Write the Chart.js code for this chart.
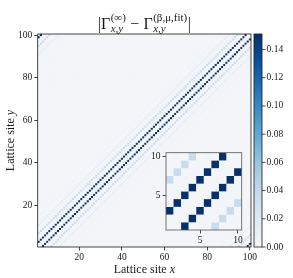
<!DOCTYPE html>
<html>
<head>
<meta charset="utf-8">
<script src="https://cdn.jsdelivr.net/npm/chart.js@4.4.1/dist/chart.umd.min.js"></script>
<style>
html, body { margin: 0; padding: 0; background: #fff; }
#wrap { position: relative; width: 293px; height: 278px; }
#main { position: absolute; left: 0; top: 0; }
#inset { position: absolute; left: 140px; top: 140px; }
</style>
</head>
<body>
<div id="wrap">
<canvas id="main" width="293" height="278"></canvas>
<canvas id="inset" width="110" height="110"></canvas>
</div>
<script>
// lattice size
var sites = 100;
var distances = [0, 1, 2, 3, 4, 5, 6, 7, 8, 9, 10, 11, 12, 13, 14];
var distValues = [0.001, 0.001, 0.151, 0.001, 0.003, 0.001, 0.036, 0.001, 0.003, 0.001, 0.014, 0.001, 0.003, 0.001, 0.006];
// everything farther away
var restValue = 0.001;

var xTicks = [20, 40, 60, 80, 100];
var yTicks = [20, 40, 60, 80, 100];
var insetMax = 10;
var insetTicks = [5, 10];
var cbTicks = [0, 0.02, 0.04, 0.06, 0.08, 0.10, 0.12, 0.14];
var vmin = 0, vmax = 0.151;

// "Blues"-like colour steps (lightest end a little greyer, as in the picture)
var bluesStops = [
	[245, 246, 248], [222, 235, 247], [198, 219, 239], [158, 202, 225], [107, 174, 214],
	[66, 146, 198], [33, 113, 181], [8, 81, 156], [8, 48, 107]
];
function blues(t) {
	t = Math.max(0, Math.min(1, t));
	var p = t * (bluesStops.length - 1);
	var i = Math.min(Math.floor(p), bluesStops.length - 2);
	var f = p - i;
	var a = bluesStops[i], b = bluesStops[i + 1];
	return 'rgb(' + Math.round(a[0] + (b[0] - a[0]) * f) + ',' +
		Math.round(a[1] + (b[1] - a[1]) * f) + ',' +
		Math.round(a[2] + (b[2] - a[2]) * f) + ')';
}
function colorOf(v) { return blues((v - vmin) / (vmax - vmin)); }

// cells of the matrix
var cells = [];
for (var x = 1; x <= sites; x++) {
	for (var y = 1; y <= sites; y++) {
		var d = Math.abs(x - y);
		d = Math.min(d, sites - d);
		var k = distances.indexOf(d);
		cells.push({ x: x, y: y, v: k >= 0 ? distValues[k] : restValue });
	}
}
var insetCells = cells.filter(function (c) { return c.x <= insetMax && c.y <= insetMax; });

var serif = "'Liberation Serif', 'DejaVu Serif', serif";
var ink = '#1a1a1a';

// heatmap cells through the scales
var heatPlugin = {
	id: 'heat',
	beforeDatasetsDraw: function (chart) {
		var ctx = chart.ctx, xs = chart.scales.x, ys = chart.scales.y, a = chart.chartArea;
		ctx.save();
		ctx.beginPath();
		ctx.rect(a.left, a.top, a.right - a.left, a.bottom - a.top);
		ctx.clip();
		ctx.fillStyle = colorOf(restValue);
		ctx.fillRect(a.left, a.top, a.right - a.left, a.bottom - a.top);
		chart.data.datasets[0].data.forEach(function (c) {
			var x0 = xs.getPixelForValue(c.x - 0.5), x1 = xs.getPixelForValue(c.x + 0.5);
			var y0 = ys.getPixelForValue(c.y + 0.5), y1 = ys.getPixelForValue(c.y - 0.5);
			ctx.fillStyle = colorOf(c.v);
			ctx.fillRect(x0, y0, x1 - x0, y1 - y0);
		});
		ctx.restore();
	}
};

function framePlugin(color) {
	return {
		id: 'frame',
		afterDraw: function (chart) {
			var ctx = chart.ctx, a = chart.chartArea;
			ctx.save();
			ctx.strokeStyle = color;
			ctx.lineWidth = 0.8;
			ctx.strokeRect(a.left, a.top, a.right - a.left, a.bottom - a.top);
			ctx.restore();
		}
	};
}

// colour bar next to the plot, using the cb scale
var colorbarPlugin = {
	id: 'colorbar',
	afterDraw: function (chart) {
		var ctx = chart.ctx, s = chart.scales.cb, a = chart.chartArea;
		var left = a.right + 3, right = a.right + 11;
		var top = s.getPixelForValue(vmax), bottom = s.getPixelForValue(vmin);
		var g = ctx.createLinearGradient(0, bottom, 0, top);
		bluesStops.forEach(function (c, i) {
			g.addColorStop(i / (bluesStops.length - 1), 'rgb(' + c.join(',') + ')');
		});
		ctx.save();
		ctx.fillStyle = g;
		ctx.fillRect(left, top, right - left, bottom - top);
		ctx.strokeStyle = ink;
		ctx.lineWidth = 0.8;
		ctx.strokeRect(left, top, right - left, bottom - top);
		cbTicks.forEach(function (v) {
			var py = s.getPixelForValue(v);
			ctx.beginPath();
			ctx.moveTo(right, py);
			ctx.lineTo(right + 3.5, py);
			ctx.stroke();
		});
		ctx.restore();
	}
};

// title and axis labels with math parts
var textPlugin = {
	id: 'texts',
	afterDraw: function (chart) {
		var ctx = chart.ctx, a = chart.chartArea;
		var cx = (a.left + a.right) / 2;
		var big = 16, small = 11;
		var runs = [
			{ t: '|Γ', f: big + 'px ' + serif },
			{ sup: '(∞)', sub: 'x,y' },
			{ t: ' − Γ', f: big + 'px ' + serif },
			{ sup: '(β,μ,fit)', sub: 'x,y' },
			{ t: '|', f: big + 'px ' + serif }
		];
		var supFont = small + 'px ' + serif, subFont = 'italic ' + small + 'px ' + serif;
		ctx.save();
		var total = 0;
		runs.forEach(function (r) {
			if (r.t) { ctx.font = r.f; r.w = ctx.measureText(r.t).width; }
			else {
				ctx.font = supFont; var w1 = ctx.measureText(r.sup).width;
				ctx.font = subFont; var w2 = ctx.measureText(r.sub).width;
				r.w = Math.max(w1, w2) + 1;
			}
			total += r.w;
		});
		var px = cx - total / 2, base = 29;
		ctx.fillStyle = ink;
		ctx.textBaseline = 'alphabetic';
		ctx.textAlign = 'left';
		runs.forEach(function (r) {
			if (r.t) { ctx.font = r.f; ctx.fillText(r.t, px, base); }
			else {
				ctx.font = supFont; ctx.fillText(r.sup, px + 0.5, base - 8);
				ctx.font = subFont; ctx.fillText(r.sub, px + 0.5, base + 3);
			}
			px += r.w;
		});

		// axis labels
		var lf = '12px ' + serif, lfi = 'italic 12px ' + serif;
		function label(word, letter, x0, y0, rot) {
			ctx.save();
			ctx.translate(x0, y0);
			ctx.rotate(rot);
			ctx.font = lf; var w1 = ctx.measureText(word).width;
			ctx.font = lfi; var w2 = ctx.measureText(letter).width;
			var sx = -(w1 + w2) / 2;
			ctx.textBaseline = 'middle';
			ctx.font = lf; ctx.fillText(word, sx, 0);
			ctx.font = lfi; ctx.fillText(letter, sx + w1, 0);
			ctx.restore();
		}
		label('Lattice site ', 'x', cx, 270, 0);
		label('Lattice site ', 'y', 10.5, (a.top + a.bottom) / 2, -Math.PI / 2);
		ctx.restore();
	}
};

function tickSetter(list) {
	return function (s) { s.ticks = list.map(function (v) { return { value: v }; }); };
}
var tickGrid = { drawOnChartArea: false, drawTicks: true, tickLength: 3.5, tickWidth: 0.8, tickColor: ink };
var tickFont = { family: serif, size: 9.5 };

var mainChart = new Chart(document.getElementById('main'), {
	type: 'scatter',
	data: { datasets: [{ data: cells, pointRadius: 0, pointHoverRadius: 0 }] },
	options: {
		responsive: false,
		animation: false,
		events: [],
		layout: { padding: { top: 34, left: 0, right: 0, bottom: 0 } },
		plugins: { legend: { display: false }, tooltip: { enabled: false } },
		scales: {
			x: {
				type: 'linear', min: 0.5, max: sites + 0.5,
				afterBuildTicks: tickSetter(xTicks),
				afterFit: function (s) { s.height = 31; },
				grid: tickGrid, border: { display: false },
				ticks: { font: tickFont, color: ink, padding: 1, maxRotation: 0 }
			},
			y: {
				type: 'linear', min: 0.5, max: sites + 0.5,
				afterBuildTicks: tickSetter(yTicks),
				afterFit: function (s) { s.width = 37.7; },
				grid: tickGrid, border: { display: false },
				ticks: { font: tickFont, color: ink, padding: 2 }
			},
			cb: {
				axis: 'y', type: 'linear', position: 'right', min: vmin, max: vmax,
				afterBuildTicks: tickSetter(cbTicks),
				afterFit: function (s) { s.width = 42; },
				grid: { drawOnChartArea: false, drawTicks: false }, border: { display: false },
				ticks: { font: tickFont, color: ink, padding: 15.5, callback: function (v) { return v.toFixed(2); } }
			}
		}
	},
	plugins: [heatPlugin, framePlugin(ink), colorbarPlugin, textPlugin]
});

var insetChart = new Chart(document.getElementById('inset'), {
	type: 'scatter',
	data: { datasets: [{ data: insetCells, pointRadius: 0, pointHoverRadius: 0 }] },
	options: {
		responsive: false,
		animation: false,
		events: [],
		layout: { padding: { top: 12.7, right: 8.3, left: 0, bottom: 0 } },
		plugins: { legend: { display: false }, tooltip: { enabled: false } },
		scales: {
			x: {
				type: 'linear', min: 0.5, max: insetMax + 0.5,
				afterBuildTicks: tickSetter(insetTicks),
				afterFit: function (s) { s.height = 20; },
				grid: tickGrid, border: { display: false },
				ticks: { font: tickFont, color: ink, padding: 1, maxRotation: 0 }
			},
			y: {
				type: 'linear', min: 0.5, max: insetMax + 0.5,
				afterBuildTicks: tickSetter(insetTicks),
				afterFit: function (s) { s.width = 26; },
				grid: tickGrid, border: { display: false },
				ticks: { font: tickFont, color: ink, padding: 2 }
			}
		}
	},
	plugins: [heatPlugin, framePlugin('#555')]
});
</script>
</body>
</html>
